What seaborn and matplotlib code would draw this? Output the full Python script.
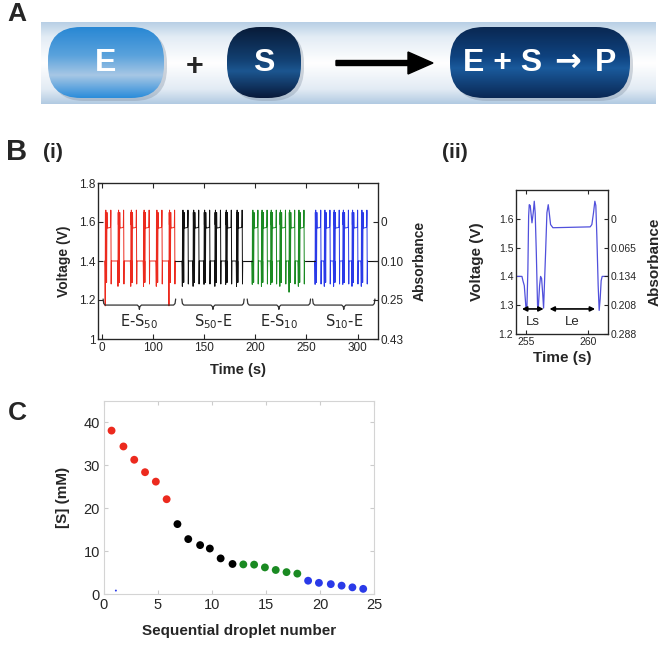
import numpy as np
import pandas as pd
import matplotlib
matplotlib.use("Agg")
import matplotlib.pyplot as plt
from matplotlib.patches import FancyBboxPatch, FancyArrow, Rectangle
from matplotlib.colors import LinearSegmentedColormap
import seaborn as sns

# ---------------- data ----------------
# one droplet pair (S droplet then E droplet), read off panel B(ii); time relative to 255 s
wave_t = [-0.35, -0.27, -0.16, -0.08, -0.03, 0.05, 0.13, 0.19, 0.24, 0.32, 0.46, 0.56,
          0.645, 0.72, 0.81, 0.91, 0.97, 1.075, 1.156, 1.237, 1.317, 1.398, 1.56, 1.667,
          1.774, 1.855, 1.962, 2.151, 5.161, 5.296, 5.43, 5.538, 5.618, 5.699, 5.806,
          5.887, 5.968, 6.048, 6.129]
wave_v = [1.400, 1.385, 1.368, 1.322, 1.293, 1.290, 1.425, 1.609, 1.649, 1.646, 1.586, 1.620,
          1.661, 1.620, 1.483, 1.299, 1.290, 1.368, 1.400, 1.393, 1.345, 1.290, 1.483, 1.621,
          1.649, 1.621, 1.580, 1.569, 1.572, 1.580, 1.621, 1.661, 1.646, 1.540, 1.368,
          1.282, 1.322, 1.385, 1.400]
baseline_v = 1.40

# droplet start times (s) in B(i) and depth of their first dip (V)
red_t = [53.0, 65.5, 78.0, 90.5, 103.0, 115.4]
red_low = [1.17, 1.27, 1.27, 1.27, 1.27, 1.17]
black_t = [128.5, 139.0, 149.7, 160.3, 170.9, 181.5]
black_low = [1.27, 1.27, 1.28, 1.27, 1.28, 1.27]
green_t = [196.9, 205.9, 214.9, 223.9, 232.9, 242.0]
green_low = [1.28, 1.27, 1.28, 1.27, 1.24, 1.27]
blue_t = [258.4, 267.4, 276.5, 285.5, 294.5, 303.6]
blue_low = [1.28, 1.27, 1.27, 1.28, 1.27, 1.27]

seg_labels = ["E-S$_{50}$", "S$_{50}$-E", "E-S$_{10}$", "S$_{10}$-E"]
brace_from = [51, 128, 192, 256]
brace_to = [122, 189, 254, 317]

b1_yticks = [1.0, 1.2, 1.4, 1.6, 1.8]
b1_yticklabels = ["1", "1.2", "1.4", "1.6", "1.8"]
b1_abs_ticks = [1.0, 1.2, 1.4, 1.6]
b1_abs_labels = ["0.43", "0.25", "0.10", "0"]
b1_xticks = [50, 100, 150, 200, 250, 300]
b1_xticklabels = ["0", "100", "150", "200", "250", "300"]

b2_anchor = 255.0
b2_yticks = [1.2, 1.3, 1.4, 1.5, 1.6]
b2_abs_labels = ["0.288", "0.208", "0.134", "0.065", "0"]
ls_span = [254.65, 256.4]
le_span = [256.88, 260.56]

# panel C: substrate concentration per droplet
x_red = [0.7, 1.8, 2.8, 3.8, 4.8, 5.8]
y_red = [38.1, 34.4, 31.3, 28.4, 26.2, 22.1]
x_black = [6.8, 7.8, 8.9, 9.8, 10.8, 11.9]
y_black = [16.3, 12.8, 11.4, 10.6, 8.3, 7.0]
x_green = [12.9, 13.9, 14.9, 15.9, 16.9, 17.9]
y_green = [6.9, 6.85, 6.2, 5.6, 5.1, 4.75]
x_blue = [18.9, 19.9, 21.0, 22.0, 23.0, 24.0]
y_blue = [3.1, 2.6, 2.3, 1.95, 1.55, 1.2]

col_red = "#ec2a1e"
col_black = "#111111"
col_green = "#1a8a22"
col_blue = "#2a3ae8"

# ---------------- style ----------------
sns.set_style("ticks")
plt.rcParams["font.family"] = ["Liberation Sans", "DejaVu Sans"]
plt.rcParams["xtick.direction"] = "in"
plt.rcParams["ytick.direction"] = "in"

W, H = 666, 647
fig = plt.figure(figsize=(W / 100, H / 100), dpi=100)


def fx(px):
    return px / W


def fy(py):
    return 1 - py / H


# ---------------- panel A (schematic) ----------------
axa = fig.add_axes([0, fy(110), 1, 110 / H])
axa.set_xlim(0, W)
axa.set_ylim(110, 0)
axa.axis("off")


def grad_fill(ax, patch, stops, x0, x1, y0, y1, z):
    cmap = LinearSegmentedColormap.from_list("g", stops)
    grad = np.linspace(0, 1, 256).reshape(-1, 1)
    im = ax.imshow(grad, cmap=cmap, extent=(x0, x1, y1, y0), origin="upper",
                   aspect="auto", zorder=z, interpolation="bilinear")
    im.set_clip_path(patch)


band = Rectangle((41, 22), 615, 82, facecolor="none", edgecolor="none")
axa.add_patch(band)
grad_fill(axa, band, [(0, "#b7cfe5"), (0.18, "#e3ecf5"), (0.5, "#ffffff"),
                      (0.82, "#e2ebf4"), (1, "#b1cae2")], 41, 656, 22, 104, 1)

pills = [
    (48, 164, 33, [(0, "#2887d4"), (0.4, "#5aa2dc"), (0.68, "#a7c7e5"), (1, "#2a8cda")]),
    (227, 301, 33, [(0, "#081b38"), (0.45, "#123f70"), (0.62, "#1c5690"), (1, "#08193a")]),
    (450, 630, 34, [(0, "#0a2852"), (0.42, "#0f4380"), (0.58, "#1a5a9c"), (1, "#0a2854")]),
]
for x0, x1, rr, stops in pills:
    shadow = FancyBboxPatch((x0 + 3, 30), x1 - x0, 71, boxstyle=f"round,pad=0,rounding_size={rr}",
                            facecolor="#7f8ea0", edgecolor="none", alpha=0.35, zorder=2)
    axa.add_patch(shadow)
    body = FancyBboxPatch((x0, 27), x1 - x0, 71, boxstyle=f"round,pad=0,rounding_size={rr}",
                          facecolor="none", edgecolor="none", zorder=3)
    axa.add_patch(body)
    grad_fill(axa, body, stops, x0, x1, 27, 98, 3)

pill_font = dict(color="white", fontsize=23, fontweight="bold", ha="center", va="center", zorder=4)
axa.text(106, 63, "E", **pill_font)
axa.text(264, 63, "S", **pill_font)
axa.text(503, 63, "E + S", **pill_font)
axa.text(568, 62, "\u2192", family=["DejaVu Sans"], **pill_font)
axa.text(606, 63, "P", **pill_font)

axa.text(195, 67, "+", fontsize=22, fontweight="bold", ha="center", va="center", zorder=4)
axa.add_patch(FancyArrow(336, 63, 97, 0, width=5, head_width=22, head_length=25,
                         length_includes_head=True, color="black", zorder=4))
axa.set_xlim(0, W)
axa.set_ylim(110, 0)

fig.text(fx(17), fy(14), "A", fontsize=19, fontweight="bold", ha="center", va="center")
fig.text(fx(17), fy(152), "B", fontsize=21, fontweight="bold", ha="center", va="center")
fig.text(fx(53), fy(152), "(i)", fontsize=15, fontweight="bold", ha="center", va="center")
fig.text(fx(455), fy(152), "(ii)", fontsize=15, fontweight="bold", ha="center", va="center")
fig.text(fx(17), fy(413), "C", fontsize=19, fontweight="bold", ha="center", va="center")


# ---------------- panel B(i) ----------------
def build_trace(anchors, lows):
    xs, ys = [], []
    for a, low in zip(anchors, lows):
        v = list(wave_v)
        v[4] = low + 0.003
        v[5] = low
        xs += [a + t for t in wave_t]
        ys += v
    return xs, ys


ax1 = fig.add_axes([fx(98), fy(339), 280 / W, 156 / H])
segments = [(red_t, red_low, col_red), (black_t, black_low, col_black),
            (green_t, green_low, col_green), (blue_t, blue_low, col_blue)]
seg_ends = []
for anchors, lows, col in segments:
    xs, ys = build_trace(anchors, lows)
    sns.lineplot(x=xs, y=ys, sort=False, estimator=None, color=col, lw=0.7, ax=ax1)
    seg_ends.append((xs[0], xs[-1]))

xlim1 = (46, 320)
for i in range(len(seg_ends)):
    start = seg_ends[i][1]
    stop = seg_ends[i + 1][0] if i + 1 < len(seg_ends) else xlim1[1]
    sns.lineplot(x=[start, stop], y=[baseline_v, baseline_v], color=col_black, lw=0.8, ax=ax1)

for a, b, lab in zip(brace_from, brace_to, seg_labels):
    m = (a + b) / 2
    bx = [a, a + 0.6, a + 2, m - 2, m - 0.5, m, m + 0.5, m + 2, b - 2, b - 0.6, b]
    by = [1.205, 1.182, 1.174, 1.174, 1.166, 1.152, 1.166, 1.174, 1.174, 1.182, 1.205]
    ax1.plot(bx, by, color="#333333", lw=0.9)
    ax1.text(m, 1.087, lab, fontsize=10.5, ha="center", va="center", family=["DejaVu Sans"])

ax1.set_xlim(*xlim1)
ax1.set_ylim(1.0, 1.8)
ax1.set_xticks(b1_xticks)
ax1.set_xticklabels(b1_xticklabels)
ax1.set_yticks(b1_yticks)
ax1.set_yticklabels(b1_yticklabels)
ax1.tick_params(labelsize=8.5, length=3.5, width=0.8, top=True, pad=2)
for s in ax1.spines.values():
    s.set_linewidth(0.9)
    s.set_visible(True)
ax1.set_xlabel("Time (s)", fontsize=10.5, fontweight="bold")
ax1.set_ylabel("Voltage (V)", fontsize=10, fontweight="bold")
ax1.xaxis.set_label_coords(0.5, -0.155)
ax1.yaxis.set_label_coords(-0.095, 0.5)

ax1r = ax1.twinx()
ax1r.set_ylim(1.0, 1.8)
ax1r.set_yticks(b1_abs_ticks)
ax1r.set_yticklabels(b1_abs_labels)
ax1r.tick_params(labelsize=8.5, length=3.5, width=0.8, pad=2)
ax1r.set_ylabel("Absorbance", fontsize=10, fontweight="bold")
ax1r.yaxis.set_label_coords(1.125, 0.5)

# ---------------- panel B(ii) ----------------
ax2 = fig.add_axes([fx(516), fy(334), 92 / W, 144 / H])
xlim2 = (254.17, 261.6)
x2 = [xlim2[0]] + [b2_anchor + t for t in wave_t] + [xlim2[1]]
y2 = [baseline_v] + wave_v + [baseline_v]
sns.lineplot(x=x2, y=y2, sort=False, estimator=None, color="#5050dc", lw=0.9, ax=ax2)
for span, lab in [(ls_span, "Ls"), (le_span, "Le")]:
    ax2.annotate("", xy=(span[0], 1.287), xytext=(span[1], 1.287),
                 arrowprops=dict(arrowstyle="<|-|>", color="black", lw=1.2, mutation_scale=7,
                                 shrinkA=0, shrinkB=0))
    ax2.text(sum(span) / 2, 1.24, lab, fontsize=9.5, ha="center", va="center")
ax2.set_xlim(*xlim2)
ax2.set_ylim(1.2, 1.7)
ax2.set_xticks([255, 260])
ax2.set_yticks(b2_yticks)
ax2.set_yticklabels(["1.2", "1.3", "1.4", "1.5", "1.6"])
ax2.tick_params(labelsize=7.5, length=3, width=0.8, top=True, pad=2)
for s in ax2.spines.values():
    s.set_linewidth(0.9)
    s.set_visible(True)
ax2.set_xlabel("Time (s)", fontsize=11, fontweight="bold")
ax2.set_ylabel("Voltage (V)", fontsize=11, fontweight="bold")
ax2.xaxis.set_label_coords(0.5, -0.12)
ax2.yaxis.set_label_coords(-0.35, 0.5)

ax2r = ax2.twinx()
ax2r.set_ylim(1.2, 1.7)
ax2r.set_yticks(b2_yticks)
ax2r.set_yticklabels(b2_abs_labels)
ax2r.tick_params(labelsize=7.5, length=3, width=0.8, pad=2)
ax2r.set_ylabel("Absorbance", fontsize=11, fontweight="bold")
ax2r.yaxis.set_label_coords(1.43, 0.5)

# ---------------- panel C ----------------
axc = fig.add_axes([fx(104), fy(594), 270 / W, 193 / H])
df = pd.DataFrame({
    "droplet": x_red + x_black + x_green + x_blue,
    "S": y_red + y_black + y_green + y_blue,
    "run": ["E-S50"] * len(x_red) + ["S50-E"] * len(x_black)
           + ["E-S10"] * len(x_green) + ["S10-E"] * len(x_blue),
})
pal = {"E-S50": col_red, "S50-E": "#000000", "E-S10": col_green, "S10-E": col_blue}
sns.scatterplot(data=df, x="droplet", y="S", hue="run", palette=pal, s=32,
                edgecolor="none", legend=False, ax=axc)
sns.scatterplot(x=[1.1], y=[0.8], color=col_blue, s=2, edgecolor="none", ax=axc)
axc.set_xlim(0, 25)
axc.set_ylim(0, 45)
axc.set_xticks([0, 5, 10, 15, 20, 25])
axc.set_yticks([0, 10, 20, 30, 40])
axc.tick_params(labelsize=10.5, length=3, width=0.8, color="#cccccc",
                top=True, right=True, pad=3)
for s in axc.spines.values():
    s.set_visible(True)
    s.set_color("#d4d4d4")
    s.set_linewidth(0.8)
axc.set_xlabel("Sequential droplet number", fontsize=11, fontweight="bold")
axc.set_ylabel("[S] (mM)", fontsize=11, fontweight="bold")
axc.xaxis.set_label_coords(0.5, -0.155)
axc.yaxis.set_label_coords(-0.125, 0.5)

fig.savefig("out.png", dpi=100)
